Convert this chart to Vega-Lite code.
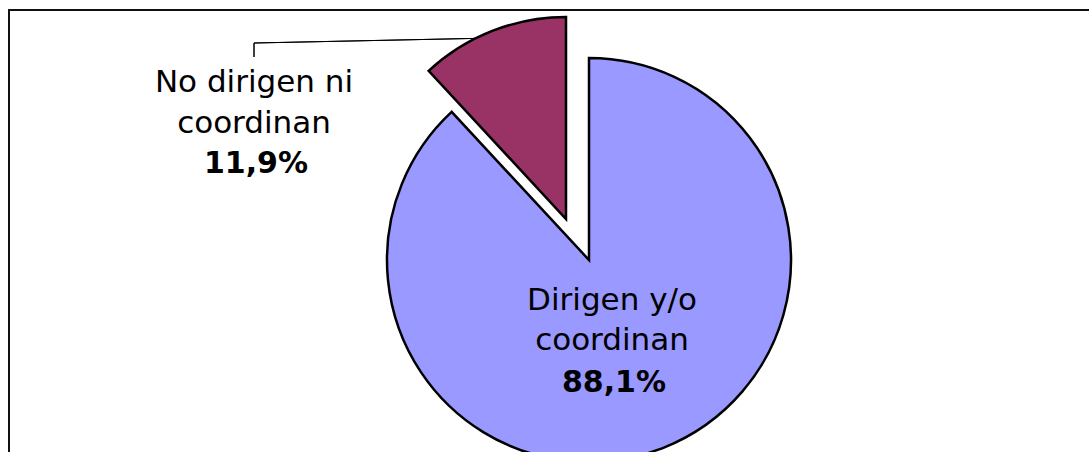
{
  "$schema": "https://vega.github.io/schema/vega-lite/v6.json",
  "width": 1100,
  "height": 460,
  "autosize": {"type": "none"},
  "padding": {"left": 9, "top": 10, "right": 0, "bottom": 0},
  "background": "#ffffff",
  "config": {
    "view": {"stroke": "#111111", "strokeWidth": 2},
    "locale": {"number": {"decimal": ",", "thousands": ".", "grouping": [3], "currency": ["", " €"]}}
  },
  "data": {
    "values": [
      {"category": "Dirigen y/o\ncoordinan", "share": 0.881},
      {"category": "No dirigen ni\ncoordinan", "share": 0.119}
    ]
  },
  "transform": [
    {"stack": "share", "groupby": [], "sort": [{"field": "category", "order": "ascending"}], "as": ["s0", "s1"]}
  ],
  "layer": [
    {
      "mark": {"type": "rule", "stroke": "#000000", "strokeWidth": 1},
      "encoding": {
        "x": {"value": 245}, "y": {"value": 33},
        "x2": {"value": 245}, "y2": {"value": 47}
      }
    },
    {
      "mark": {"type": "rule", "stroke": "#000000", "strokeWidth": 1},
      "encoding": {
        "x": {"value": 245}, "y": {"value": 33},
        "x2": {"value": 485}, "y2": {"value": 28}
      }
    },
    {
      "transform": [{"filter": "datum.share > 0.5"}],
      "mark": {"type": "arc", "radius": 202, "stroke": "#000000", "strokeWidth": 2.5},
      "encoding": {
        "theta": {"field": "s0", "type": "quantitative", "stack": null, "scale": {"domain": [0, 1]}},
        "theta2": {"field": "s1"},
        "color": {"field": "category", "type": "nominal", "legend": null,
          "scale": {"domain": ["Dirigen y/o\ncoordinan", "No dirigen ni\ncoordinan"], "range": ["#9999FF", "#993366"]}},
        "x": {"value": 580},
        "y": {"value": 250}
      }
    },
    {
      "transform": [{"filter": "datum.share < 0.5"}],
      "mark": {"type": "arc", "radius": 202, "stroke": "#000000", "strokeWidth": 2.5},
      "encoding": {
        "theta": {"field": "s0", "type": "quantitative", "stack": null, "scale": {"domain": [0, 1]}},
        "theta2": {"field": "s1"},
        "color": {"field": "category", "type": "nominal", "legend": null,
          "scale": {"domain": ["Dirigen y/o\ncoordinan", "No dirigen ni\ncoordinan"], "range": ["#9999FF", "#993366"]}},
        "x": {"value": 557},
        "y": {"value": 209}
      }
    },
    {
      "transform": [{"filter": "datum.share > 0.5"}],
      "mark": {"type": "text", "font": "DejaVu Sans", "fontSize": 31, "lineHeight": 40, "lineBreak": "\n", "align": "center", "baseline": "alphabetic", "color": "#000000"},
      "encoding": {"text": {"field": "category"}, "x": {"value": 603}, "y": {"value": 300}}
    },
    {
      "transform": [{"filter": "datum.share > 0.5"}],
      "mark": {"type": "text", "font": "DejaVu Sans", "fontSize": 30, "fontWeight": "bold", "align": "center", "baseline": "alphabetic", "color": "#000000"},
      "encoding": {"text": {"field": "share", "type": "quantitative", "format": ".1%"}, "x": {"value": 605}, "y": {"value": 382}}
    },
    {
      "transform": [{"filter": "datum.share < 0.5"}],
      "mark": {"type": "text", "font": "DejaVu Sans", "fontSize": 31, "lineHeight": 41, "lineBreak": "\n", "align": "center", "baseline": "alphabetic", "color": "#000000"},
      "encoding": {"text": {"field": "category"}, "x": {"value": 245}, "y": {"value": 82}}
    },
    {
      "transform": [{"filter": "datum.share < 0.5"}],
      "mark": {"type": "text", "font": "DejaVu Sans", "fontSize": 30, "fontWeight": "bold", "align": "center", "baseline": "alphabetic", "color": "#000000"},
      "encoding": {"text": {"field": "share", "type": "quantitative", "format": ".1%"}, "x": {"value": 247}, "y": {"value": 163}}
    }
  ]
}
